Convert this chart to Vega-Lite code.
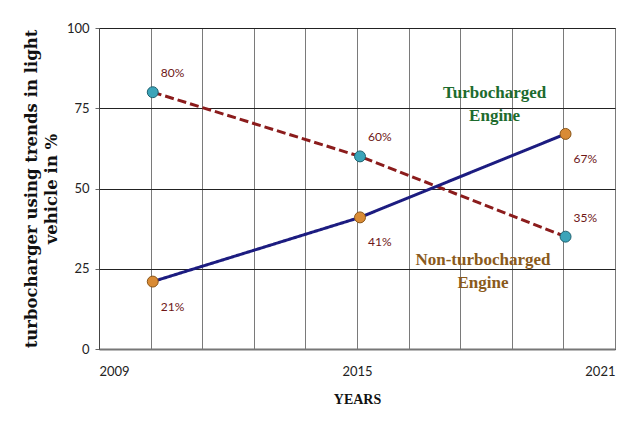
{
  "$schema": "https://vega.github.io/schema/vega-lite/v6.json",
  "autosize": "none",
  "width": 516,
  "height": 321,
  "padding": {"left": 99, "top": 28, "right": 23, "bottom": 81},
  "background": "white",
  "datasets": {
    "series": [
      {"engine": "Non-turbocharged", "year": 2010.25, "share": 80, "label": "80%"},
      {"engine": "Non-turbocharged", "year": 2015.07, "share": 60, "label": "60%"},
      {"engine": "Non-turbocharged", "year": 2019.85, "share": 35, "label": "35%"},
      {"engine": "Turbocharged", "year": 2010.25, "share": 21, "label": "21%"},
      {"engine": "Turbocharged", "year": 2015.07, "share": 41, "label": "41%"},
      {"engine": "Turbocharged", "year": 2019.85, "share": 67, "label": "67%"}
    ],
    "notes": [
      {"engine": "Turbocharged", "year": 2018.2, "share": 79.6, "text": ["Turbocharged", "Engine"]},
      {"engine": "Non-turbocharged", "year": 2017.93, "share": 27.8, "text": ["Non-turbocharged", "Engine"]}
    ]
  },
  "config": {
    "view": {"stroke": "#222", "strokeWidth": 1},
    "axis": {"labelFont": "Lato", "labelFontSize": 13, "labelColor": "#222"}
  },
  "layer": [
    {
      "data": {"name": "series"},
      "mark": {"type": "line", "strokeWidth": 3},
      "encoding": {
        "x": {
          "field": "year", "type": "quantitative",
          "scale": {"domain": [2009, 2021], "nice": false, "zero": false},
          "axis": {
            "values": [2009, 2010.2, 2011.4, 2012.6, 2013.8, 2015, 2016.2, 2017.4, 2018.6, 2019.8, 2021],
            "format": "d",
            "labelExpr": "indexof([2009, 2015, 2021], datum.value) >= 0 ? datum.label : ''",
            "grid": true, "gridColor": "#7a7a7a", "gridWidth": 1, "gridOpacity": 1,
            "domainColor": "#777", "domainWidth": 2,
            "ticks": false, "labelPadding": 16,
            "title": "YEARS", "titleFont": "Liberation Serif", "titleFontSize": 14,
            "titleFontWeight": "bold", "titleColor": "#111", "titlePadding": 14
          }
        },
        "y": {
          "field": "share", "type": "quantitative",
          "scale": {"domain": [0, 100], "nice": false},
          "axis": {
            "values": [0, 25, 50, 75, 100],
            "grid": true, "gridColor": "#222", "gridWidth": 1, "gridOpacity": 1,
            "domainColor": "#444", "domainWidth": 1,
            "tickSize": 4, "tickColor": "#666", "labelPadding": 6,
            "title": ["turbocharger using trends in light", "vehicle in %"],
            "titleFont": "DejaVu Serif", "titleFontSize": 16.5, "titleFontWeight": "bold",
            "titleColor": "#111", "titlePadding": 7, "titleLineHeight": 20
          }
        },
        "detail": {"field": "engine"},
        "color": {
          "field": "engine", "type": "nominal",
          "scale": {"domain": ["Non-turbocharged", "Turbocharged"], "range": ["#8b1c1c", "#1c1c80"]},
          "legend": null
        },
        "strokeDash": {
          "field": "engine", "type": "nominal",
          "scale": {"domain": ["Non-turbocharged", "Turbocharged"], "range": [[9, 4], [1, 0]]},
          "legend": null
        }
      }
    },
    {
      "data": {"name": "series"},
      "mark": {"type": "circle", "size": 120, "opacity": 1, "strokeWidth": 1},
      "encoding": {
        "x": {"field": "year", "type": "quantitative"},
        "y": {"field": "share", "type": "quantitative"},
        "fill": {
          "field": "engine", "type": "nominal",
          "scale": {"domain": ["Non-turbocharged", "Turbocharged"], "range": ["#3ba4b9", "#d98b35"]},
          "legend": null
        },
        "stroke": {
          "field": "engine", "type": "nominal",
          "scale": {"domain": ["Non-turbocharged", "Turbocharged"], "range": ["#1f6270", "#8a5518"]},
          "legend": null
        }
      }
    },
    {
      "data": {"name": "series"},
      "transform": [{"filter": "datum.engine == 'Non-turbocharged'"}],
      "mark": {"type": "text", "font": "Lato", "fontSize": 12, "color": "#6e1616", "align": "left", "dx": 8, "dy": -19},
      "encoding": {
        "x": {"field": "year", "type": "quantitative"},
        "y": {"field": "share", "type": "quantitative"},
        "text": {"field": "label"}
      }
    },
    {
      "data": {"name": "series"},
      "transform": [{"filter": "datum.engine == 'Turbocharged'"}],
      "mark": {"type": "text", "font": "Lato", "fontSize": 12, "color": "#6e1616", "align": "left", "dx": 8, "dy": 25},
      "encoding": {
        "x": {"field": "year", "type": "quantitative"},
        "y": {"field": "share", "type": "quantitative"},
        "text": {"field": "label"}
      }
    },
    {
      "data": {"name": "notes"},
      "mark": {"type": "text", "font": "Liberation Serif", "fontSize": 17, "fontWeight": "bold", "align": "center", "baseline": "middle", "lineHeight": 23},
      "encoding": {
        "x": {"field": "year", "type": "quantitative"},
        "y": {"field": "share", "type": "quantitative"},
        "text": {"field": "text"},
        "color": {
          "field": "engine", "type": "nominal",
          "scale": {"domain": ["Non-turbocharged", "Turbocharged"], "range": ["#8a5a1c", "#1d6b2e"]},
          "legend": null
        }
      }
    }
  ],
  "resolve": {"scale": {"color": "independent"}}
}
